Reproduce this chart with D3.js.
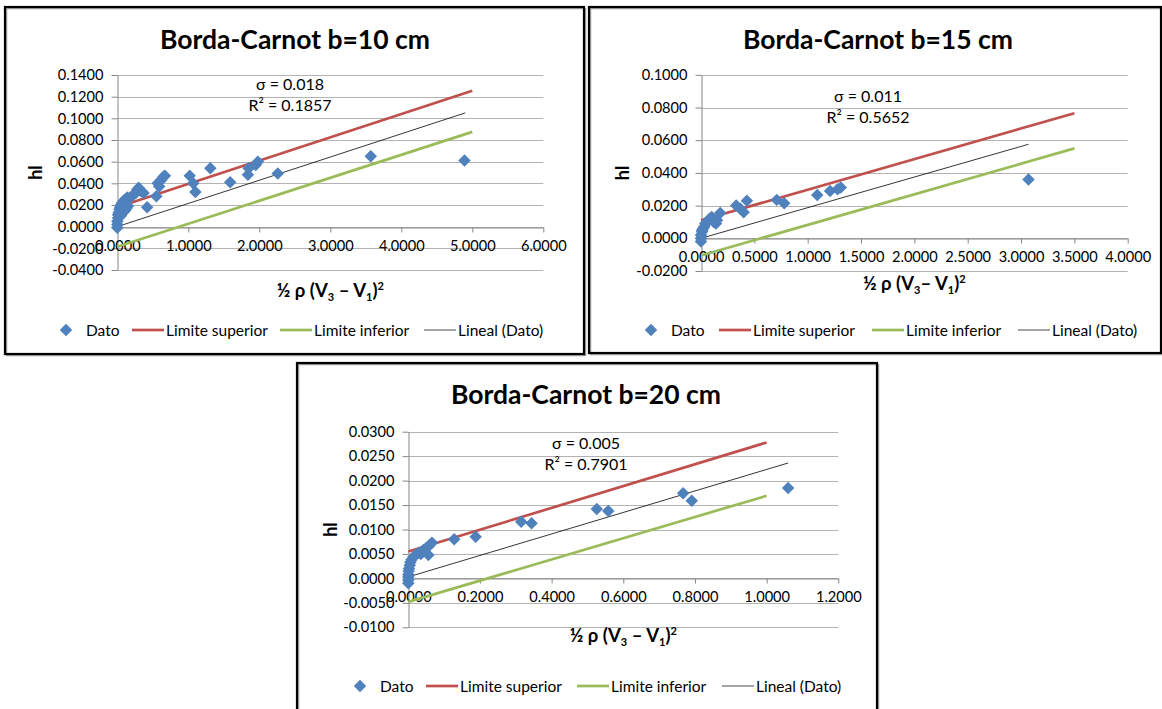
<!DOCTYPE html>
<html><head><meta charset="utf-8">
<script src="https://cdn.jsdelivr.net/npm/d3@7"></script>
<style>
body{margin:0;background:#fff}
svg{display:block}
text{font-family:Lato,"Open Sans",sans-serif;fill:#000}
</style>
</head><body>
<svg id="c" width="1162" height="709"></svg>
<script>
// ---------------- DATA ----------------
const titles = ["Borda-Carnot b=10 cm", "Borda-Carnot b=15 cm", "Borda-Carnot b=20 cm"];
const legendLabels = ["Dato", "Limite superior", "Limite inferior", "Lineal (Dato)"];
const sigmaLabels = ["σ = 0.018", "σ = 0.011", "σ = 0.005"];
const r2Labels = ["R² = 0.1857", "R² = 0.5652", "R² = 0.7901"];
const yTitle = "hl";

// b = 10 cm
const xTicks10 = [0, 1, 2, 3, 4, 5, 6];
const yTicks10 = [-0.04, -0.02, 0, 0.02, 0.04, 0.06, 0.08, 0.10, 0.12, 0.14];
const dato10X = [0.00,0.00,0.00,0.01,0.01,0.02,0.03,0.04,0.05,0.07,0.09,0.11,0.14,0.05,0.08,0.11,0.13,0.15,0.18,0.22,0.26,0.28,0.30,0.33,0.37,0.42,0.55,0.57,0.59,0.62,0.65,0.67,1.02,1.07,1.10,1.31,1.59,1.84,1.85,1.95,1.98,2.26,3.57,4.89];
const dato10Y = [-0.001,0.002,0.005,0.008,0.011,0.013,0.016,0.018,0.020,0.022,0.024,0.025,0.027,0.010,0.013,0.015,0.017,0.019,0.027,0.029,0.031,0.034,0.036,0.033,0.031,0.018,0.028,0.040,0.037,0.043,0.046,0.047,0.047,0.040,0.032,0.054,0.041,0.048,0.054,0.057,0.060,0.049,0.065,0.061];
const sup10X = [0, 5.0],  sup10Y = [0.018, 0.1255];
const inf10X = [0, 5.0],  inf10Y = [-0.0185, 0.0875];
const lin10X = [0, 4.9],  lin10Y = [0.0, 0.105];

// b = 15 cm
const xTicks15 = [0, 0.5, 1.0, 1.5, 2.0, 2.5, 3.0, 3.5, 4.0];
const yTicks15 = [-0.02, 0, 0.02, 0.04, 0.06, 0.08, 0.10];
const dato15X = [0.00,0.00,0.00,0.01,0.01,0.02,0.03,0.04,0.06,0.08,0.10,0.12,0.14,0.15,0.18,0.33,0.37,0.40,0.43,0.71,0.78,1.09,1.21,1.28,1.31,3.07];
const dato15Y = [-0.002,0.000,0.002,0.004,0.005,0.006,0.007,0.009,0.010,0.012,0.013,0.010,0.009,0.011,0.0155,0.020,0.018,0.016,0.023,0.0235,0.0215,0.0265,0.029,0.030,0.031,0.036];
const sup15X = [0, 3.5],  sup15Y = [0.011, 0.0765];
const inf15X = [0, 3.5],  inf15Y = [-0.0105, 0.055];
const lin15X = [0, 3.07], lin15Y = [0.0, 0.0575];

// b = 20 cm
const xTicks20 = [0, 0.2, 0.4, 0.6, 0.8, 1.0, 1.2];
const yTicks20 = [-0.01, -0.005, 0, 0.005, 0.01, 0.015, 0.02, 0.025, 0.03];
const dato20X = [0.000,0.000,0.000,0.000,0.001,0.002,0.004,0.006,0.009,0.014,0.020,0.028,0.035,0.042,0.050,0.056,0.058,0.066,0.128,0.188,0.315,0.344,0.526,0.558,0.767,0.791,1.060];
const dato20Y = [-0.0010,-0.0004,0.0003,0.0008,0.0015,0.0020,0.0027,0.0033,0.0038,0.0044,0.0048,0.0052,0.0050,0.0058,0.0062,0.0048,0.0067,0.0073,0.0080,0.0085,0.0116,0.0113,0.0142,0.0138,0.0174,0.0159,0.0185];
const sup20X = [0, 1.0],  sup20Y = [0.0055, 0.0278];
const inf20X = [0, 1.0],  inf20Y = [-0.0048, 0.0169];
const lin20X = [0, 1.06], lin20Y = [0.0003, 0.0236];

// ---------------- LAYOUT / STYLE ----------------
const colors = {dato: "#4F81BD", sup: "#C0504D", inf: "#9BBB59", lin: "#000000"};
const fmt = d3.formatLocale({decimal: ".", thousands: ",", grouping: [3], currency: ["", ""], minus: "-"}).format(".4f");
const zip = (xs, ys) => xs.map((v, i) => [v, ys[i]]);

const panels = [
  {frame: [5, 7, 579, 347], px: [117.3, 543.3], py: [270, 75], xTicks: xTicks10, yTicks: yTicks10,
   dato: zip(dato10X, dato10Y), sup: zip(sup10X, sup10Y), inf: zip(inf10X, inf10Y), lin: zip(lin10X, lin10Y),
   title: titles[0], titleXY: [295, 49], ann: [290, 90], sigma: sigmaLabels[0], r2: r2Labels[0],
   yTitleX: 36, xTitleY: 297, legY: 330, legX: [66, 132, 280, 424], xTitleSpace: true},
  {frame: [589, 7, 572, 346], px: [701, 1127.7], py: [271, 74.8], xTicks: xTicks15, yTicks: yTicks15,
   dato: zip(dato15X, dato15Y), sup: zip(sup15X, sup15Y), inf: zip(inf15X, inf15Y), lin: zip(lin15X, lin15Y),
   title: titles[1], titleXY: [878, 49], ann: [868, 102], sigma: sigmaLabels[1], r2: r2Labels[1],
   yTitleX: 623, xTitleY: 290, legY: 330, legX: [651, 719, 872, 1018], xTitleSpace: false},
  {frame: [297, 363, 580, 360], px: [408.3, 838.3], py: [627.3, 431.7], xTicks: xTicks20, yTicks: yTicks20,
   dato: zip(dato20X, dato20Y), sup: zip(sup20X, sup20Y), inf: zip(inf20X, inf20Y), lin: zip(lin20X, lin20Y),
   title: titles[2], titleXY: [586, 404], ann: [586, 449], sigma: sigmaLabels[2], r2: r2Labels[2],
   yTitleX: 331, xTitleY: 642, legY: 686, legX: [360, 426, 577, 722], xTitleSpace: true}
];

const svg = d3.select("#c");
svg.append("rect").attr("width", 1162).attr("height", 709).attr("fill", "#fff");

const diamond = d3.symbol().type(d3.symbolSquare).size(78);

panels.forEach(p => {
  const g = svg.append("g");
  // frame (shadow + border)
  g.append("rect").attr("x", p.frame[0] + 1.5).attr("y", p.frame[1] + 1.5)
    .attr("width", p.frame[2]).attr("height", p.frame[3])
    .attr("fill", "none").attr("stroke", "#a0a0a0").attr("stroke-width", 1.5);
  g.append("rect").attr("x", p.frame[0]).attr("y", p.frame[1])
    .attr("width", p.frame[2]).attr("height", p.frame[3])
    .attr("fill", "none").attr("stroke", "#000").attr("stroke-width", 2.2);

  const xd = [p.xTicks[0], p.xTicks[p.xTicks.length - 1]];
  const yd = [p.yTicks[0], p.yTicks[p.yTicks.length - 1]];
  const x = d3.scaleLinear().domain(xd).range(p.px);
  const y = d3.scaleLinear().domain(yd).range(p.py);

  // gridlines
  g.append("g").selectAll("line").data(p.yTicks).join("line")
    .attr("x1", p.px[0]).attr("x2", p.px[1])
    .attr("y1", d => Math.round(y(d)) + 0.5).attr("y2", d => Math.round(y(d)) + 0.5)
    .attr("stroke", "#b3b3b3").attr("stroke-width", 1);

  // y axis
  const ya = g.append("g").attr("transform", `translate(${Math.round(x(0)) + 0.5},0)`)
    .call(d3.axisLeft(y).tickValues(p.yTicks).tickFormat(fmt).tickSizeInner(6).tickSizeOuter(0).tickPadding(8));
  ya.select(".domain").attr("stroke", "#868686");
  ya.selectAll(".tick line").attr("stroke", "#868686");
  ya.selectAll("text").attr("font-size", 14.6).attr("font-family", "Lato").attr("fill", "#000");

  // x axis at y = 0
  const xa = g.append("g").attr("transform", `translate(0,${Math.round(y(0)) + 0.5})`)
    .call(d3.axisBottom(x).tickValues(p.xTicks).tickFormat(fmt).tickSizeInner(5).tickSizeOuter(0).tickPadding(8));
  xa.select(".domain").attr("stroke", "#868686");
  xa.selectAll(".tick line").attr("stroke", "#868686");
  xa.selectAll("text").attr("font-size", 14.6).attr("font-family", "Lato").attr("fill", "#000");

  const line = d3.line().x(d => x(d[0])).y(d => y(d[1]));
  g.append("path").datum(p.sup).attr("d", line).attr("fill", "none").attr("stroke", colors.sup).attr("stroke-width", 2.7);
  g.append("path").datum(p.inf).attr("d", line).attr("fill", "none").attr("stroke", colors.inf).attr("stroke-width", 2.7);
  g.append("path").datum(p.lin).attr("d", line).attr("fill", "none").attr("stroke", colors.lin).attr("stroke-width", 0.8);

  // markers
  g.append("g").selectAll("path").data(p.dato).join("path")
    .attr("d", diamond)
    .attr("transform", d => `translate(${x(d[0])},${y(d[1])}) rotate(45)`)
    .attr("fill", colors.dato);

  // title
  g.append("text").attr("x", p.titleXY[0]).attr("y", p.titleXY[1]).attr("text-anchor", "middle")
    .attr("font-size", 26.5).attr("font-weight", "bold").text(p.title);

  // annotation
  g.append("text").attr("x", p.ann[0]).attr("y", p.ann[1]).attr("text-anchor", "middle")
    .attr("font-size", 16).text(p.sigma);
  g.append("text").attr("x", p.ann[0]).attr("y", p.ann[1] + 21).attr("text-anchor", "middle")
    .attr("font-size", 16).text(p.r2);

  // y title
  const ymid = (p.py[0] + p.py[1]) / 2;
  g.append("text").attr("transform", `translate(${p.yTitleX + 6},${ymid}) rotate(-90)`)
    .attr("text-anchor", "middle").attr("font-size", 18).attr("font-weight", "bold").text(yTitle);

  // x title: ½ ρ (V3 – V1)²
  const xmid = (p.px[0] + p.px[1]) / 2;
  const xt = g.append("text").attr("x", xmid).attr("y", p.xTitleY).attr("text-anchor", "middle")
    .attr("font-size", 18.5).attr("font-weight", "bold");
  xt.append("tspan").text("½ ρ (V");
  xt.append("tspan").attr("font-size", 11).attr("dy", 4).text("3");
  xt.append("tspan").attr("dy", -4).text(p.xTitleSpace ? " – V" : "– V");
  xt.append("tspan").attr("font-size", 11).attr("dy", 4).text("1");
  xt.append("tspan").attr("dy", -4).text(")");
  xt.append("tspan").attr("font-size", 11).attr("dy", -7).text("2");

  // legend
  const lg = g.append("g");
  lg.append("path").attr("d", diamond).attr("transform", `translate(${p.legX[0]},${p.legY}) rotate(45)`).attr("fill", colors.dato);
  lg.append("text").attr("x", p.legX[0] + 20).attr("y", p.legY + 5.5).attr("font-size", 15.5).text(legendLabels[0]);
  const keys = [["sup", 2.7], ["inf", 2.7], ["lin", 0.9]];
  keys.forEach((k, i) => {
    const lx = p.legX[i + 1];
    lg.append("line").attr("x1", lx).attr("x2", lx + 32).attr("y1", p.legY).attr("y2", p.legY)
      .attr("stroke", k[0] === "lin" ? "#333" : colors[k[0]]).attr("stroke-width", k[1]);
    lg.append("text").attr("x", lx + 34).attr("y", p.legY + 5.5).attr("font-size", 15.5).text(legendLabels[i + 1]);
  });
});
</script>
</body></html>
